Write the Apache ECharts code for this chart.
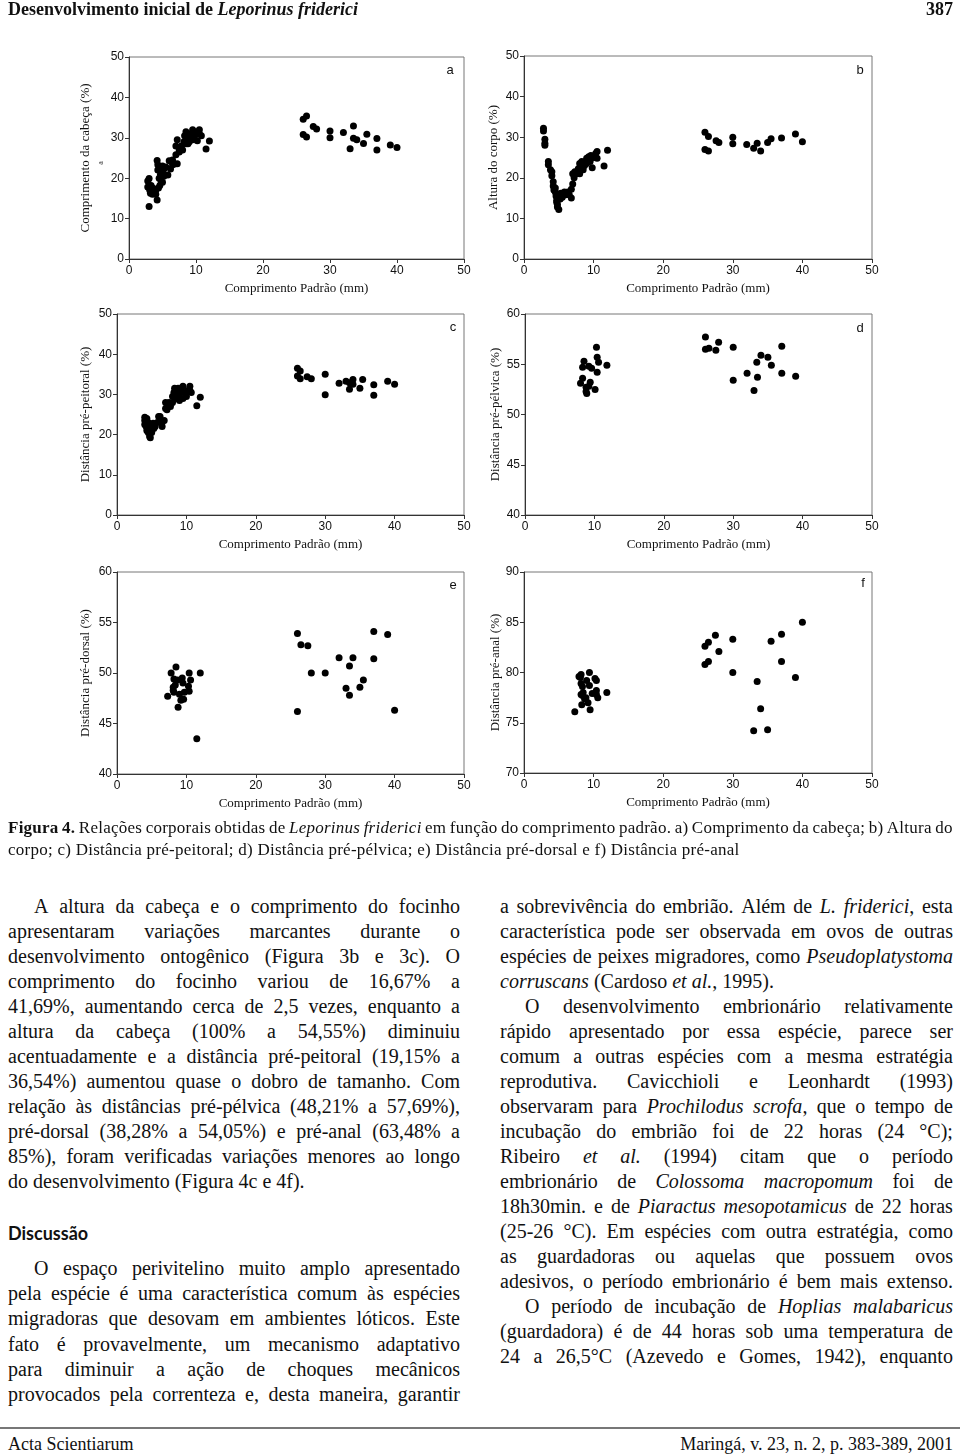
<!DOCTYPE html>
<html><head><meta charset="utf-8">
<script src="https://cdn.jsdelivr.net/npm/echarts@6/dist/echarts.min.js"></script>
<style>
html,body{margin:0;padding:0;background:#fff;}
body{width:960px;height:1455px;position:relative;overflow:hidden;font-family:"Liberation Serif",serif;color:#111;}
#chart{position:absolute;left:0;top:0;width:960px;height:820px;}
.ln{position:absolute;white-space:nowrap;font-size:20px;line-height:25px;height:25px;}
.jl{display:flex;justify-content:space-between;}
.cap{font-size:17px;line-height:22px;height:22px;letter-spacing:0.25px;}
</style></head><body>
<div id="chart"></div>
<div id="txt"></div>
<script>
// ---------- DATA ----------
const xTicks = [0, 10, 20, 30, 40, 50];

// a) Comprimento da cabeça (%) vs Comprimento Padrão (mm)
const dataA = [[2.8,17.8],[2.8,19.3],[3.0,19.9],[3.0,13.0],[3.1,17.0],[3.2,16.3],[3.3,18.2],[3.5,16.0],[3.6,17.5],[3.8,16.6],[4.0,17.0],[4.0,16.0],[4.2,14.6],[4.2,24.4],[4.3,22.0],[4.3,23.3],[4.4,17.6],[4.5,20.0],[4.6,18.2],[4.7,21.0],[4.8,22.5],[4.8,19.2],[5.0,19.0],[5.0,21.5],[5.0,23.0],[5.2,22.3],[5.2,20.5],[5.5,22.8],[5.8,20.8],[6.0,24.3],[6.2,22.3],[6.5,24.5],[6.5,23.3],[6.8,23.5],[7.0,25.8],[7.0,28.0],[7.2,29.5],[7.2,23.6],[7.5,27.0],[7.5,26.5],[7.8,28.0],[8.0,27.0],[8.2,29.0],[8.3,30.5],[8.5,31.5],[8.5,28.5],[8.7,30.0],[8.8,28.5],[9.0,31.0],[9.0,29.0],[9.2,30.5],[9.3,30.0],[9.5,32.0],[9.5,29.5],[9.8,30.5],[10.0,31.0],[10.2,29.3],[10.5,32.0],[10.5,31.0],[10.8,30.5],[11.5,27.2],[12.0,29.2],
[26.0,34.6],[26.5,35.4],[26.0,30.8],[26.5,30.2],[27.5,32.8],[28.0,32.2],[30.0,31.7],[30.0,30.0],[32.0,31.3],[33.5,32.9],[33.0,27.3],[33.5,29.9],[34.0,29.5],[35.5,30.9],[35.0,28.6],[37.0,29.8],[37.0,27.0],[39.0,28.2],[40.0,27.6]];

// b) Altura do corpo (%)
const dataB = [[2.8,32.2],[2.8,31.5],[3.0,29.5],[3.0,28.5],[3.0,28.0],[3.5,24.0],[3.5,23.2],[3.8,22.0],[4.0,21.5],[4.0,20.5],[4.2,19.0],[4.2,18.0],[4.3,17.0],[4.5,17.5],[4.5,16.5],[4.6,15.5],[4.7,14.5],[4.7,14.0],[4.8,13.5],[4.8,12.8],[5.0,12.2],[5.0,15.5],[5.2,14.8],[5.3,16.2],[5.5,15.2],[5.8,16.5],[6.0,15.8],[6.3,16.5],[6.5,15.8],[6.8,15.0],[6.8,17.2],[7.0,18.5],[7.0,21.0],[7.2,20.0],[7.3,21.5],[7.5,21.0],[7.8,22.2],[8.0,21.0],[8.0,23.5],[8.2,22.5],[8.3,24.0],[8.5,22.0],[8.7,23.0],[9.0,24.8],[9.0,23.5],[9.3,25.2],[9.5,24.0],[9.6,25.5],[9.8,22.5],[10.0,25.0],[10.3,26.0],[10.5,26.5],[10.5,24.8],[11.5,22.9],[12.0,26.8],
[26.0,31.2],[26.5,30.2],[26.0,27.0],[26.5,26.6],[27.6,29.1],[28.0,28.7],[30.0,30.0],[30.0,28.4],[32.0,28.2],[33.0,27.3],[33.5,28.5],[34.0,26.6],[35.0,28.7],[35.5,29.6],[37.0,29.8],[39.0,30.8],[40.0,28.9]];

// c) Distância pré-peitoral (%)
const dataC = [[4.0,24.3],[4.0,23.5],[4.0,22.5],[4.2,22.0],[4.3,24.0],[4.3,21.0],[4.5,20.5],[4.5,23.0],[4.6,22.5],[4.7,19.5],[4.8,19.2],[4.8,21.5],[5.0,22.0],[5.0,20.5],[5.2,22.8],[5.3,21.5],[5.5,22.0],[5.8,23.0],[6.0,24.5],[6.2,24.5],[6.5,23.0],[6.5,22.0],[6.8,23.5],[7.0,28.0],[7.0,26.5],[7.2,26.2],[7.3,27.0],[7.5,28.0],[7.7,27.0],[8.0,28.0],[8.0,29.5],[8.2,30.5],[8.3,31.5],[8.5,29.0],[8.7,30.5],[8.8,31.5],[9.0,30.0],[9.0,28.5],[9.2,31.0],[9.5,32.0],[9.5,29.0],[9.8,30.5],[10.0,29.5],[10.2,31.0],[10.5,32.0],[10.5,31.0],[10.7,30.5],[11.5,27.2],[12.0,29.3],
[26.0,36.5],[26.4,35.8],[26.0,34.6],[26.4,33.9],[27.4,34.4],[28.0,33.9],[30.0,35.0],[30.0,29.9],[32.0,32.8],[33.0,33.3],[33.5,32.9],[33.5,31.3],[34.0,33.7],[34.0,32.5],[35.0,31.5],[35.4,33.7],[37.0,32.4],[37.0,29.8],[39.0,33.3],[40.0,32.5]];

// d) Distância pré-pélvica (%)
const dataD = [[8.0,53.1],[8.3,53.6],[8.3,54.7],[8.5,55.3],[8.8,52.7],[8.8,52.3],[8.9,52.1],[9.2,52.8],[9.2,54.8],[9.4,53.2],[9.6,54.6],[10.1,52.5],[10.3,56.7],[10.4,55.7],[10.4,54.2],[10.6,55.2],[11.8,54.9],
[26.0,57.7],[26.0,56.5],[26.5,56.6],[27.5,56.4],[27.9,57.2],[30.0,56.7],[30.0,53.4],[32.0,54.1],[33.0,52.4],[33.4,55.2],[33.5,53.7],[34.0,55.9],[35.0,55.7],[35.5,54.9],[37.0,56.8],[37.0,54.1],[39.0,53.8]];

// e) Distância pré-dorsal (%)
const dataE = [[7.3,47.7],[7.8,50.0],[8.1,48.6],[8.1,48.3],[8.2,49.4],[8.2,48.1],[8.4,48.8],[8.5,50.6],[8.7,49.3],[8.8,46.6],[9.0,47.9],[9.2,47.3],[9.4,49.5],[9.5,49.0],[9.6,47.4],[9.7,48.1],[10.3,48.7],[10.4,50.0],[10.4,48.2],[10.6,49.3],[11.5,43.5],[12.0,50.0],
[26.0,53.9],[26.0,46.2],[26.5,52.8],[27.5,52.7],[28.0,50.0],[30.0,50.0],[32.0,51.5],[33.0,48.5],[33.5,50.7],[33.5,47.8],[34.0,51.5],[35.0,48.6],[35.5,49.3],[37.0,54.1],[37.0,51.4],[39.0,53.8],[40.0,46.3]];

// f) Distância pré-anal (%)
const dataF = [[7.3,76.1],[7.9,79.6],[8.1,79.5],[8.2,79.8],[8.2,78.9],[8.2,77.8],[8.3,76.8],[8.4,78.6],[8.4,77.7],[8.5,78.0],[8.7,77.4],[8.9,77.5],[9.0,79.2],[9.2,77.0],[9.4,80.0],[9.4,78.7],[9.5,76.3],[9.8,77.9],[10.2,79.4],[10.4,79.2],[10.4,78.2],[10.4,77.8],[10.6,77.5],[11.9,78.0],
[26.0,82.6],[26.5,83.0],[27.5,83.7],[28.0,82.1],[26.0,80.8],[26.5,81.1],[30.0,83.3],[30.0,80.0],[33.5,79.1],[34.0,76.4],[33.0,74.2],[35.0,74.3],[35.5,83.1],[37.0,83.8],[37.0,81.1],[39.0,79.5],[40.0,85.0]];

const yNames = ['Comprimento da cabeça (%)','Altura do corpo (%)','Distância pré-peitoral (%)','Distância pré-pélvica (%)','Distância pré-dorsal (%)','Distância pré-anal (%)'];
const yRanges = [[0,50,10],[0,50,10],[0,50,10],[40,60,5],[40,60,5],[70,90,5]];
const panelLetters = ['a','b','c','d','e','f'];
const xName = 'Comprimento Padrão (mm)';

// ---------- LAYOUT ----------
const grids = [
  {left:129, top:57, width:335, height:202},
  {left:524, top:56, width:348, height:203},
  {left:117, top:314, width:347, height:201},
  {left:525, top:314, width:347, height:201},
  {left:117, top:572, width:347, height:202},
  {left:524, top:572, width:348, height:201}
];
const yGaps = [37, 24, 25, 23, 25, 22];
const letterPos = [[450,70],[860,70],[453,327],[860,328],[453,585],[863,583]];
const allData = [dataA,dataB,dataC,dataD,dataE,dataF];

const axisCol = '#333';
const sans = '"Liberation Sans", Arial, sans-serif';
const serif = '"Liberation Serif", "Times New Roman", serif';

const option = {
  animation:false,
  backgroundColor:'#fff',
  grid: grids.map(g => Object.assign({show:true, borderColor:'#777', borderWidth:1, containLabel:false, outerBoundsMode:'none'}, g)),
  xAxis: grids.map((g,i) => ({
    gridIndex:i, type:'value', min:xTicks[0], max:xTicks[xTicks.length-1], interval:10,
    name:xName, nameLocation:'middle', nameGap:23,
    nameTextStyle:{fontFamily:serif, fontSize:13, color:'#111'},
    axisLine:{show:true, onZero:false, lineStyle:{color:axisCol, width:1}},
    axisTick:{show:true, inside:false, length:4, lineStyle:{color:axisCol}},
    axisLabel:{fontFamily:sans, fontSize:12, color:'#111', margin:6},
    splitLine:{show:false}
  })),
  yAxis: grids.map((g,i) => ({
    gridIndex:i, type:'value', min:yRanges[i][0], max:yRanges[i][1], interval:yRanges[i][2],
    name:yNames[i], nameLocation:'middle', nameGap:yGaps[i], nameRotate:90,
    nameTextStyle:{fontFamily:serif, fontSize:13, color:'#111'},
    axisLine:{show:true, onZero:false, lineStyle:{color:axisCol, width:1}},
    axisTick:{show:true, inside:false, length:4, lineStyle:{color:axisCol}},
    axisLabel:{fontFamily:sans, fontSize:12, color:'#111', margin:5},
    splitLine:{show:false}
  })),
  series: allData.map((d,i) => ({
    type:'scatter', xAxisIndex:i, yAxisIndex:i, data:d,
    symbol:'circle', symbolSize:7, itemStyle:{color:'#000', opacity:1}
  })),
  graphic: letterPos.map((p,i) => ({
    type:'text', x:p[0], y:p[1],
    style:{text:panelLetters[i], font:'13px '+sans, fill:'#111', align:'center', verticalAlign:'middle'}
  })).concat([{
    type:'text', x:101, y:163, rotation:Math.PI/2,
    style:{text:'a', font:'8px '+serif, fill:'#333', align:'center', verticalAlign:'middle'}
  }])
};
const chart = echarts.init(document.getElementById('chart'), null, {renderer:'canvas'});
chart.setOption(option);

// ---------- TEXT ----------
const txt = document.getElementById('txt');
function addLine(x, y, w, html, justify, cls) {
  const d = document.createElement('div');
  d.className = 'ln' + (cls ? ' ' + cls : '') + (justify ? ' jl' : '');
  d.style.left = x + 'px';
  d.style.top = y + 'px';
  d.style.width = w + 'px';
  if (justify) {
    html.split(' ').forEach(t => { const s = document.createElement('span'); s.innerHTML = t; d.appendChild(s); });
  } else {
    d.innerHTML = html;
  }
  txt.appendChild(d);
}
function abs(html, style) {
  const d = document.createElement('div');
  d.style.cssText = 'position:absolute;white-space:nowrap;' + style;
  d.innerHTML = html;
  txt.appendChild(d);
}
// header
abs('Desenvolvimento inicial de <i>Leporinus friderici</i>', 'left:8px;top:-3px;font-size:18px;font-weight:bold;line-height:24px;');
abs('387', 'right:7px;top:-3px;font-size:18px;font-weight:bold;line-height:24px;');

// caption
addLine(8, 817, 945, '<b>Figura</b> <b>4.</b> Relações corporais obtidas de <i>Leporinus</i> <i>friderici</i> em função do comprimento padrão. a) Comprimento da cabeça; b) Altura do', true, 'cap');
addLine(8, 839, 945, 'corpo; c) Distância pré-peitoral; d) Distância pré-pélvica; e) Distância pré-dorsal e f) Distância pré-anal', false, 'cap');

const leftLines = [
  [34, 'A altura da cabeça e o comprimento do focinho', true],
  [8, 'apresentaram variações marcantes durante o', true],
  [8, 'desenvolvimento ontogênico (Figura 3b e 3c). O', true],
  [8, 'comprimento do focinho variou de 16,67% a', true],
  [8, '41,69%, aumentando cerca de 2,5 vezes, enquanto a', true],
  [8, 'altura da cabeça (100% a 54,55%) diminuiu', true],
  [8, 'acentuadamente e a distância pré-peitoral (19,15% a', true],
  [8, '36,54%) aumentou quase o dobro de tamanho. Com', true],
  [8, 'relação às distâncias pré-pélvica (48,21% a 57,69%),', true],
  [8, 'pré-dorsal (38,28% a 54,05%) e pré-anal (63,48% a', true],
  [8, '85%), foram verificadas variações menores ao longo', true],
  [8, 'do desenvolvimento (Figura 4c e 4f).', false]
];
leftLines.forEach((l, i) => addLine(l[0], 894 + i*25, 460 - l[0], l[1], l[2]));

abs('Discussão', 'left:8px;top:1221px;font-family:Lato,"Open Sans",sans-serif;font-weight:bold;font-size:18px;line-height:24px;');

const leftLines2 = [
  [34, 'O espaço perivitelino muito amplo apresentado', true],
  [8, 'pela espécie é uma característica comum às espécies', true],
  [8, 'migradoras que desovam em ambientes lóticos. Este', true],
  [8, 'fato é provavelmente, um mecanismo adaptativo', true],
  [8, 'para diminuir a ação de choques mecânicos', true],
  [8, 'provocados pela correnteza e, desta maneira, garantir', true]
];
leftLines2.forEach((l, i) => addLine(l[0], 1256 + i*25.2, 460 - l[0], l[1], l[2]));

const rightLines = [
  [500, 'a sobrevivência do embrião. Além de <i>L.</i> <i>friderici</i>, esta', true],
  [500, 'característica pode ser observada em ovos de outras', true],
  [500, 'espécies de peixes migradores, como <i>Pseudoplatystoma</i>', true],
  [500, '<i>corruscans</i> (Cardoso <i>et al.</i>, 1995).', false],
  [525, 'O desenvolvimento embrionário relativamente', true],
  [500, 'rápido apresentado por essa espécie, parece ser', true],
  [500, 'comum a outras espécies com a mesma estratégia', true],
  [500, 'reprodutiva. Cavicchioli e Leonhardt (1993)', true],
  [500, 'observaram para <i>Prochilodus</i> <i>scrofa</i>, que o tempo de', true],
  [500, 'incubação do embrião foi de 22 horas (24 °C);', true],
  [500, 'Ribeiro <i>et</i> <i>al.</i> (1994) citam que o período', true],
  [500, 'embrionário de <i>Colossoma</i> <i>macropomum</i> foi de', true],
  [500, '18h30min. e de <i>Piaractus</i> <i>mesopotamicus</i> de 22 horas', true],
  [500, '(25-26 °C). Em espécies com outra estratégia, como', true],
  [500, 'as guardadoras ou aquelas que possuem ovos', true],
  [500, 'adesivos, o período embrionário é bem mais extenso.', true],
  [525, 'O período de incubação de <i>Hoplias</i> <i>malabaricus</i>', true],
  [500, '(guardadora) é de 44 horas sob uma temperatura de', true],
  [500, '24 a 26,5°C (Azevedo e Gomes, 1942), enquanto', true]
];
rightLines.forEach((l, i) => addLine(l[0], 894 + i*25, 953 - l[0], l[1], l[2]));

// footer
abs('', 'left:0;top:1427px;width:960px;height:2px;background:#777;');
abs('Acta Scientiarum', 'left:8px;top:1432px;font-size:18px;line-height:24px;');
abs('Maringá, v. 23, n. 2, p. 383-389, 2001', 'right:7px;top:1432px;font-size:18px;line-height:24px;');
</script>
</body></html>
